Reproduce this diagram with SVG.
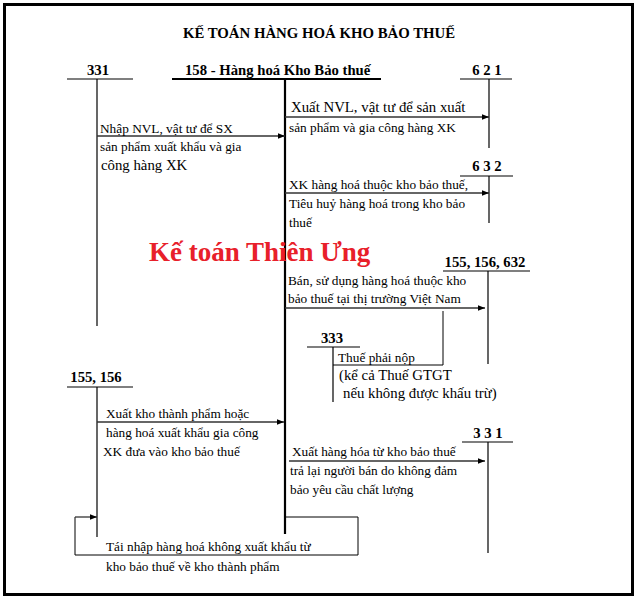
<svg xmlns="http://www.w3.org/2000/svg" width="640" height="600" viewBox="0 0 640 600">
<defs>
<style>
text{font-family:"Liberation Serif","Times New Roman",serif;fill:#000}
.t{font-size:13.3px}
.tl{font-size:14.8px}
.h{font-size:14.7px;font-weight:bold}
.ttl{font-size:14.8px;font-weight:bold}
.wm{font-size:27px;font-weight:bold;fill:#e8202a}
.acc{stroke:#000;stroke-width:1.2;fill:none}
.main{stroke:#000;stroke-width:2.2;fill:none}
.arr{stroke:#333;stroke-width:1.3;fill:none;marker-end:url(#ah)}
.ln{stroke:#000;stroke-width:1;fill:none}
</style>
<marker id="ah" viewBox="0 0 10 10" refX="10" refY="5" markerWidth="7" markerHeight="7" markerUnits="userSpaceOnUse" orient="auto">
<path d="M0,1 L10,5 L0,9 z" fill="#000"/>
</marker>
</defs>
<rect x="4.5" y="4.5" width="628" height="590" fill="#fff" stroke="#000" stroke-width="3"/>
<text class="ttl" x="319" y="38" text-anchor="middle">KẾ TOÁN HÀNG HOÁ KHO BẢO THUẾ</text>

<g id="acc-331-top">
<text class="h" x="98" y="75" text-anchor="middle">331</text>
<line class="acc" x1="67" y1="79" x2="133" y2="79"/>
<line class="acc" x1="97" y1="79" x2="97" y2="326"/>
</g>
<g id="acc-158">
<text class="h" x="185" y="75">158 - Hàng hoá Kho Bảo thuế</text>
<line class="main" x1="172" y1="79" x2="381" y2="79"/>
<line class="main" x1="285" y1="79" x2="285" y2="534"/>
</g>
<g id="acc-621">
<text class="h" x="487" y="75" text-anchor="middle">6 2 1</text>
<line class="acc" x1="460" y1="79" x2="512" y2="79"/>
<line class="acc" x1="489" y1="79" x2="489" y2="148"/>
</g>
<g id="acc-632">
<text class="h" x="487" y="171" text-anchor="middle">6 3 2</text>
<line class="acc" x1="460" y1="176" x2="513" y2="176"/>
<line class="acc" x1="489" y1="176" x2="489" y2="223"/>
</g>
<g id="acc-155-156-632">
<text class="h" x="485" y="267" text-anchor="middle">155, 156, 632</text>
<line class="acc" x1="443" y1="271" x2="530" y2="271"/>
<line class="acc" x1="488" y1="271" x2="488" y2="364"/>
</g>
<g id="acc-333">
<text class="h" x="332" y="343" text-anchor="middle">333</text>
<line class="acc" x1="307" y1="347" x2="360" y2="347"/>
<line class="acc" x1="333" y1="347" x2="333" y2="402"/>
</g>
<g id="acc-155-156">
<text class="h" x="96" y="382" text-anchor="middle">155, 156</text>
<line class="acc" x1="67" y1="387" x2="133" y2="387"/>
<line class="acc" x1="97" y1="387" x2="97" y2="537"/>
</g>
<g id="acc-331-bottom">
<text class="h" x="488" y="438" text-anchor="middle">3 3 1</text>
<line class="acc" x1="462" y1="442" x2="513" y2="442"/>
<line class="acc" x1="488" y1="442" x2="488" y2="553"/>
</g>

<text class="wm" x="149" y="261">Kế toán Thiên Ưng</text>

<g id="connectors">
<line class="arr" x1="285" y1="117" x2="489" y2="117"/>
<line class="arr" x1="97" y1="136" x2="285" y2="136"/>
<line class="arr" x1="285" y1="193" x2="489" y2="193"/>
<line class="arr" x1="285" y1="308" x2="485" y2="308"/>
<polyline class="ln" points="443,311 443,365 333,365"/>
<line class="arr" x1="97" y1="422" x2="284" y2="422"/>
<line class="arr" x1="289" y1="461" x2="485" y2="461"/>
<polyline class="ln" points="285,517 358,517 358,555 75,555 75,517"/>
<line class="arr" x1="75" y1="517" x2="97" y2="517"/>
</g>

<g id="labels">
<text class="tl" x="291" y="112">Xuất NVL, vật tư để sản xuất</text>
<text class="t" x="289" y="132">sản phẩm và gia công hàng XK</text>
<text class="t" x="100" y="133">Nhập NVL, vật tư để  SX</text>
<text class="t" x="100" y="151">sản phẩm xuất khẩu và gia</text>
<text class="tl" x="101" y="170"> công hàng XK</text>
<text class="t" x="289" y="189">XK hàng hoá thuộc kho bảo thuế,</text>
<text class="t" x="289" y="208">Tiêu huỷ hàng hoá trong kho bảo</text>
<text class="t" x="289" y="227"> thuế</text>
<text class="t" x="288" y="285">Bán, sử dụng hàng hoá thuộc kho</text>
<text class="t" x="288" y="303">bảo thuế tại thị trường Việt Nam</text>
<text class="t" x="338" y="362">Thuế phải nộp</text>
<text class="tl" x="339" y="380">(kể cả Thuế GTGT</text>
<text class="tl" x="343" y="398">nếu không được khấu trừ)</text>
<text class="t" x="106" y="418">Xuất kho thành phẩm hoặc</text>
<text class="t" x="106" y="437">hàng hoá xuất khẩu gia công</text>
<text class="t" x="103" y="456">XK đưa vào kho bảo thuế</text>
<text class="t" x="292" y="456">Xuất hàng hóa từ kho bảo thuế</text>
<text class="t" x="290" y="475">trả lại người bán do không đảm</text>
<text class="t" x="290" y="494">bảo yêu cầu chất lượng</text>
<text class="t" x="106" y="551">Tái nhập hàng hoá không xuất khẩu từ</text>
<text class="t" x="106" y="571">kho bảo thuế về kho thành phẩm</text>
</g>
</svg>
